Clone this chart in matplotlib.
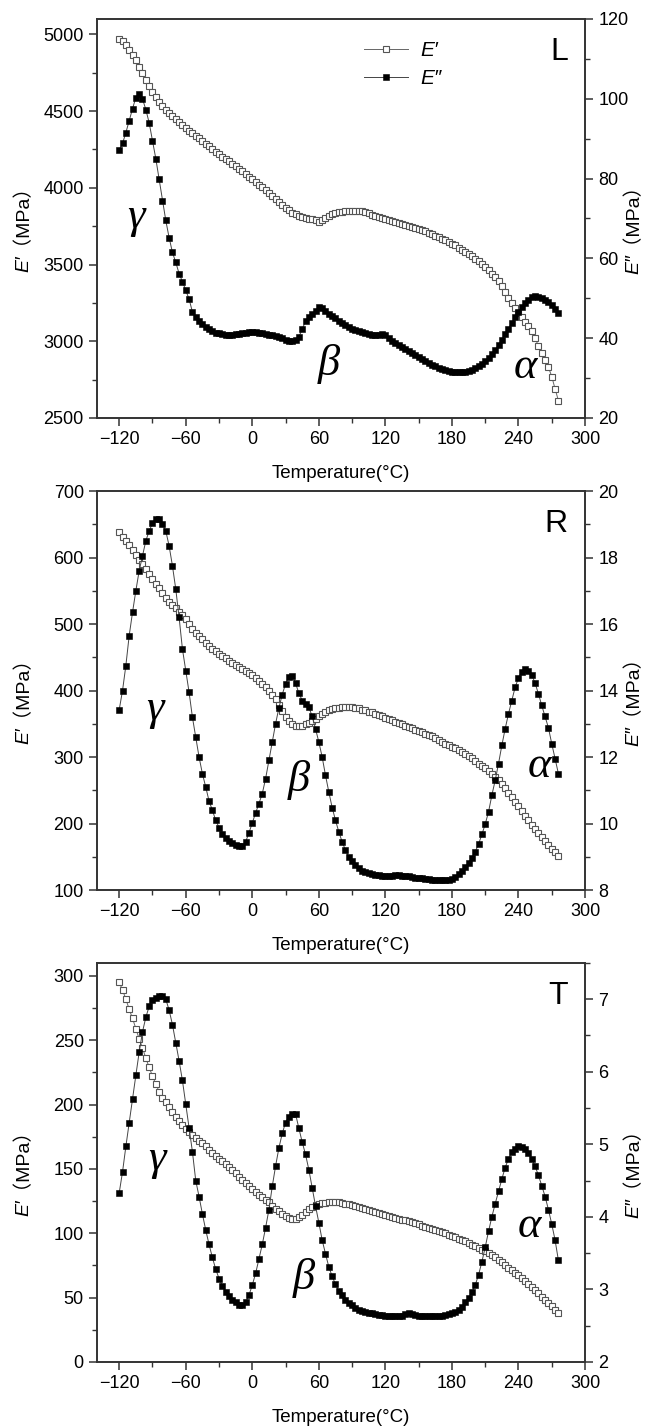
import numpy as np
import matplotlib
matplotlib.use("Agg")
import matplotlib.pyplot as plt
from matplotlib.ticker import MultipleLocator
from matplotlib.transforms import Bbox

SANS = ['Liberation Sans', 'Noto Sans CJK SC', 'DejaVu Sans']
plt.rcParams['font.family'] = SANS

# DMA sweep, one reading every 3 °C
temp = np.arange(-120, 277, 3)

# --- sample L ---
L_storage = [
    4970, 4955, 4930, 4900, 4868, 4830, 4790, 4748, 4705, 4665,
    4625, 4590, 4560, 4533, 4510, 4488, 4467, 4446, 4426, 4406,
    4390, 4373, 4356, 4340, 4322, 4305, 4288, 4270, 4253, 4236,
    4218, 4203, 4188, 4172, 4157, 4142, 4125, 4108, 4090, 4072,
    4055, 4038, 4020, 4002, 3985, 3967, 3948, 3928, 3908, 3888,
    3870, 3852, 3838, 3826, 3818, 3811, 3805, 3799, 3794, 3789,
    3780, 3790, 3805, 3817, 3826, 3834, 3840, 3845, 3848, 3850,
    3851, 3851, 3850, 3848, 3842, 3833, 3825, 3818, 3811, 3805,
    3799, 3792, 3785, 3777, 3770, 3763, 3757, 3751, 3746, 3740,
    3733, 3725, 3716, 3707, 3698, 3689, 3679, 3668, 3658, 3647,
    3636, 3624, 3610, 3597, 3584, 3570, 3555, 3538, 3520, 3502,
    3483, 3462, 3440, 3420, 3395, 3360, 3322, 3285, 3250, 3218,
    3185, 3155, 3125, 3098, 3068, 3022, 2968, 2922, 2880, 2831,
    2770, 2690, 2613,
]
L_loss = [
    87.1, 88.8, 91.5, 94.5, 97.5, 100.3, 101.3, 100.0, 97.3, 94.0,
    89.5, 85.0, 79.8, 74.5, 69.5, 65.2, 61.5, 59.0, 56.2, 54.2,
    52.0, 49.8, 46.6, 45.4, 44.4, 43.5, 42.8, 42.2, 41.7, 41.4,
    41.2, 41.0, 40.9, 40.8, 40.9, 41.0, 41.1, 41.3, 41.4, 41.5,
    41.5, 41.5, 41.4, 41.2, 41.0, 40.8, 40.7, 40.6, 40.3, 40.0,
    39.6, 39.3, 39.2, 39.5, 40.3, 42.3, 44.2, 45.3, 46.1, 46.8,
    47.7, 47.6, 46.8, 46.1, 45.5, 45.0, 44.4, 43.8, 43.2, 42.7,
    42.3, 42.0, 41.7, 41.5, 41.3, 41.1, 40.9, 40.8, 40.9, 41.1,
    40.7, 40.0, 39.4, 38.8, 38.3, 37.8, 37.3, 36.8, 36.3, 35.8,
    35.3, 34.8, 34.3, 33.9, 33.4, 33.0, 32.6, 32.3, 32.0, 31.8,
    31.6, 31.5, 31.4, 31.4, 31.5, 31.7, 32.0, 32.4, 32.9, 33.5,
    34.2, 35.0, 36.0, 37.1, 38.3, 39.6, 41.0, 42.4, 43.8, 45.2,
    46.6, 47.8, 48.8, 49.6, 50.2, 50.5, 50.3, 50.0, 49.6, 49.0,
    48.3, 47.4, 46.4,
]

# --- sample R ---
R_storage = [
    638, 631, 625, 619, 612, 604, 597, 591, 583, 575,
    567, 560, 554, 546, 539, 533, 529, 524, 518, 513,
    507, 500, 493, 487, 482, 477, 472, 467, 463, 459,
    455, 452, 449, 445, 441, 438, 435, 432, 429, 426,
    423, 419, 415, 410, 405, 400, 394, 387, 378, 369,
    360, 354, 350, 347, 346, 347, 349, 351, 354, 357,
    361, 364, 367, 370, 372, 373, 374, 375, 375, 375,
    375, 374, 373, 371, 370, 368, 367, 365, 363, 361,
    359, 357, 355, 353, 351, 349, 347, 345, 343, 341,
    339, 337, 335, 333, 331, 328, 325, 323, 320, 318,
    315, 313, 310, 307, 304, 301, 298, 294, 290, 287,
    283, 279, 275, 270, 265, 259, 253, 246, 240, 233,
    227, 219, 212, 205, 198, 192, 186, 180, 174, 168,
    162, 157, 151,
]
R_loss = [
    13.42, 14.0, 14.75, 15.65, 16.35, 17.0, 17.6, 18.05, 18.5, 18.8,
    19.03, 19.15, 19.15, 19.0, 18.8, 18.35, 17.75, 17.05, 16.2, 15.25,
    14.6, 13.95, 13.2, 12.6, 12.0, 11.5, 11.1, 10.68, 10.4, 10.1,
    9.88, 9.68, 9.55, 9.46, 9.4, 9.35, 9.31, 9.33, 9.45, 9.72,
    10.02, 10.32, 10.6, 10.9, 11.35, 11.9, 12.45, 13.0, 13.48, 13.88,
    14.2, 14.42, 14.45, 14.22, 13.92, 13.7, 13.6, 13.5, 13.22, 12.85,
    12.45, 12.0, 11.45, 10.95, 10.48, 10.1, 9.75, 9.45, 9.2, 9.0,
    8.86, 8.74, 8.65, 8.58, 8.53, 8.5, 8.47, 8.45, 8.44, 8.43,
    8.42, 8.42, 8.43, 8.45, 8.44, 8.43, 8.42, 8.41, 8.39, 8.37,
    8.36, 8.35, 8.34, 8.33, 8.31, 8.3, 8.3, 8.3, 8.3, 8.31,
    8.34, 8.4, 8.48, 8.58, 8.7, 8.82, 8.97, 9.15, 9.38, 9.67,
    9.98, 10.35, 10.85, 11.3, 11.8, 12.35, 12.85, 13.3, 13.7, 14.1,
    14.38, 14.57, 14.65, 14.6, 14.47, 14.22, 13.9, 13.55, 13.22, 12.88,
    12.4, 11.95, 11.5,
]

# --- sample T ---
T_storage = [
    295, 289, 282, 274, 267, 259, 251, 244, 236, 229,
    222, 216, 210, 205, 202, 198, 194, 190, 187, 184,
    181, 178.5, 176, 174, 172, 170, 167.5, 165, 162.5, 160,
    158, 156, 153.5, 151.5, 149, 147, 144, 141, 139, 136.5,
    134, 132, 130, 128, 126, 124, 121.5, 119, 117, 115,
    113, 111.8, 111.2, 111.3, 112.5, 114.5, 116.5, 118.5, 120.5, 122,
    122.8, 123.4, 123.8, 124.2, 124.4, 124.3, 124, 123.5, 123, 122.5,
    121.8, 121, 120.2, 119.4, 118.6, 117.9, 117.1, 116.4, 115.6, 114.9,
    114.2, 113.5, 112.7, 112, 111.3, 110.6, 109.9, 109.2, 108.4, 107.6,
    106.8, 106, 105.2, 104.4, 103.5, 102.6, 101.7, 100.8, 99.8, 98.8,
    97.8, 96.8, 95.8, 94.7, 93.6, 92.4, 91.2, 90, 88.6, 87.2,
    85.8, 84.4, 83, 81.2, 79.3, 77.3, 75.2, 73.2, 71.2, 69.2,
    67.2, 65, 62.8, 60.5, 58.2, 55.8, 53.3, 50.8, 48.2, 45.6,
    43.2, 40.5, 38,
]
T_loss = [
    4.33, 4.62, 4.97, 5.3, 5.62, 5.95, 6.27, 6.55, 6.75, 6.9,
    6.99, 7.02, 7.04, 7.05, 7.0, 6.85, 6.65, 6.4, 6.15, 5.88,
    5.55, 5.22, 4.9, 4.5, 4.28, 4.04, 3.82, 3.62, 3.44, 3.28,
    3.15, 3.05, 2.97, 2.91, 2.86, 2.82, 2.79, 2.78, 2.82, 2.92,
    3.06, 3.22, 3.42, 3.62, 3.85, 4.1, 4.42, 4.7, 4.95, 5.15,
    5.3, 5.38, 5.42, 5.42, 5.22, 5.03, 4.86, 4.65, 4.4, 4.15,
    3.92, 3.68, 3.49, 3.31, 3.18, 3.07, 2.98, 2.92, 2.86, 2.81,
    2.78, 2.75, 2.72, 2.7, 2.69, 2.68, 2.67, 2.66, 2.65, 2.645,
    2.64, 2.635, 2.63, 2.63, 2.635, 2.64, 2.655, 2.67, 2.665, 2.65,
    2.64, 2.635, 2.63, 2.63, 2.63, 2.63, 2.63, 2.635, 2.645, 2.655,
    2.67, 2.69, 2.72, 2.76, 2.82, 2.88, 2.96, 3.06, 3.2, 3.38,
    3.58, 3.8, 4.0, 4.18, 4.35, 4.52, 4.68, 4.8, 4.89, 4.94,
    4.97, 4.96, 4.93, 4.88, 4.8, 4.7, 4.57, 4.43, 4.28, 4.1,
    3.9, 3.68, 3.4,
]

panels = [
    # name, E', E'', left ylim/major/minor, right ylim/major/minor, relaxation labels (T, E')
    ("L", L_storage, L_loss, (2500, 5100), 500, 250, (20, 120), 20, 10,
     [(-105, 3810, "γ"), (69, 2852, "β"), (246, 2830, "α")]),
    ("R", R_storage, R_loss, (100, 700), 100, 50, (8, 20), 2, 1,
     [(-88, 372, "γ"), (42, 265, "β"), (259, 287, "α")]),
    ("T", T_storage, T_loss, (0, 310), 50, 25, (2, 7.5), 1, 0.5,
     [(-86, 158, "γ"), (46, 65, "β"), (250, 106, "α")]),
]

fig = plt.figure(figsize=(6.56, 14.27), dpi=100)
bottoms = [0.7071, 0.3763, 0.0456]
axis_col = "#333333"
LABEL_SIZE = 14

# (upright text, italic text, symbol) for every modulus axis title
modulus_titles = []


def modulus_label(ax, x, y, sym):
    # same string drawn twice: italic copy shows only the symbol,
    # upright copy shows only the unit, so both share one baseline
    full = sym + "（MPa）"
    kw = dict(rotation=90, transform=ax.transAxes, ha="center", va="center",
              fontsize=LABEL_SIZE, family=SANS, clip_on=True)
    t_up = ax.text(x, y, full, **kw)
    t_it = ax.text(x, y, full, style="italic", **kw)
    modulus_titles.append((t_up, t_it, sym))


for (name, ep, epp, ylim1, maj1, min1, ylim2, maj2, min2, marks), b in zip(panels, bottoms):
    assert len(ep) == len(temp) and len(epp) == len(temp)
    ax = fig.add_axes([0.1479, b, 0.7439, 0.2796])
    ax2 = ax.twinx()

    l1, = ax.plot(temp, ep, color="#666666", lw=0.7, marker="s", ms=5.0,
                  mfc="white", mec="#555555", mew=0.8)
    l2, = ax2.plot(temp, epp, color="#444444", lw=0.7, marker="s", ms=5.0,
                   mfc="black", mec="black", mew=0.4)

    ax.set_xlim(-140, 300)
    ax.set_ylim(*ylim1)
    ax2.set_ylim(*ylim2)
    ax.xaxis.set_major_locator(MultipleLocator(60))
    ax.xaxis.set_minor_locator(MultipleLocator(30))
    ax.yaxis.set_major_locator(MultipleLocator(maj1))
    ax.yaxis.set_minor_locator(MultipleLocator(min1))
    ax2.yaxis.set_major_locator(MultipleLocator(maj2))
    ax2.yaxis.set_minor_locator(MultipleLocator(min2))

    for a in (ax, ax2):
        for s in a.spines.values():
            s.set_color(axis_col)
            s.set_linewidth(1.2)
        a.tick_params(which="major", direction="out", length=6, width=1.1,
                      color=axis_col, labelsize=13)
        a.tick_params(which="minor", direction="out", length=3.5, width=1.0,
                      color=axis_col)
    ax.tick_params(top=False, which="both")

    ax.set_xlabel("Temperature(°C)", fontsize=13.5, labelpad=12)
    modulus_label(ax, -0.152, 0.485, "E′")
    modulus_label(ax, 1.098, 0.485, "E″")

    ax.text(0.965, 0.955, name, transform=ax.transAxes, ha="right", va="top",
            fontsize=23)
    for tx, ty, g in marks:
        ax.text(tx, ty, g, ha="center", va="center", fontsize=32,
                family="Liberation Serif", style="italic")

    if name == "L":
        ax2.legend([l1, l2], ["E′", "E″"], loc="upper left",
                   bbox_to_anchor=(0.547, 0.945), borderaxespad=0, borderpad=0,
                   frameon=False, prop={"size": 15, "style": "italic", "family": SANS},
                   handlelength=2.1, handletextpad=0.6, labelspacing=0.45)

# split each axis title into italic symbol / upright unit using pixel extents
fig.canvas.draw()
renderer = fig.canvas.get_renderer()
for t_up, t_it, sym in modulus_titles:
    bb = t_up.get_window_extent(renderer)
    probe = fig.text(0, 0, sym, fontsize=LABEL_SIZE, family=SANS, style="italic")
    split = bb.y0 + probe.get_window_extent(renderer).width
    probe.remove()
    t_it.set_clip_box(Bbox([[bb.x0 - 10, bb.y0 - 10], [bb.x1 + 10, split]]))
    t_up.set_clip_box(Bbox([[bb.x0 - 10, split], [bb.x1 + 10, bb.y1 + 10]]))
    t_it.set_clip_path(None)
    t_up.set_clip_path(None)

fig.savefig("out.png", dpi=100)
